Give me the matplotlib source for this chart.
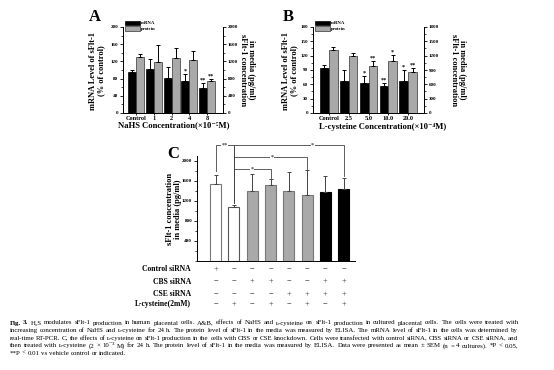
import matplotlib
matplotlib.use("Agg")
import matplotlib.pyplot as plt
from matplotlib.patches import Patch
from matplotlib.ticker import MultipleLocator, AutoMinorLocator

plt.rcParams['font.family'] = ['Liberation Serif', 'DejaVu Serif']
plt.rcParams['font.weight'] = 'bold'

W, H = 554, 370
fig = plt.figure(figsize=(W / 100, H / 100), dpi=100)

def rect(x0, y0, x1, y1):
    return [x0 / W, 1 - y1 / H, (x1 - x0) / W, (y1 - y0) / H]

# ---------------- data ----------------
a_cats = ['Control', '1', '2', '4', '8']
a_mrna = [95, 103, 82, 74, 57]
a_mrna_err = [5, 22, 24, 17, 12]
a_prot = [1310, 1195, 1270, 1226, 734]
a_prot_err = [60, 390, 240, 220, 56]
a_mrna_sig = ['', '', '', '*', '**']
a_prot_sig = ['', '', '', '', '**']

b_cats = ['Control', '2.5', '5.0', '10.0', '20.0']
b_mrna = [95, 67, 62, 56, 67]
b_mrna_err = [5, 24, 15, 7, 23]
b_prot = [1310, 1200, 990, 1090, 865]
b_prot_err = [70, 50, 90, 125, 85]
b_mrna_sig = ['', '', '*', '**', '*']
b_prot_sig = ['', '', '**', '*', '**']

c_vals = [1534, 1073, 1400, 1507, 1400, 1313, 1380, 1440]
c_err = [186, 47, 340, 126, 373, 494, 320, 213]
c_colors = ['white', 'white', '#a9a9a9', '#a9a9a9', '#a9a9a9', '#a9a9a9', 'black', 'black']
c_edges = ['#777777', '#555555', '#777777', '#777777', '#777777', '#777777', 'black', 'black']
c_rows = ['Control siRNA', 'CBS siRNA', 'CSE siRNA', 'L-cysteine(2mM)']
c_signs = [
    ['+', '−', '−', '−', '−', '−', '−', '−'],
    ['−', '−', '+', '+', '−', '−', '+', '+'],
    ['−', '−', '−', '−', '+', '+', '+', '+'],
    ['−', '+', '−', '+', '−', '+', '−', '+'],
]
# brackets: (i, j, top, drop_i, drop_j, star_x, label)
c_brackets = [
    (0, 1, 2306, 1786, 1160, 0.5, '**'),
    (1, 7, 2306, 1160, 1686, 5.3, '*'),
    (1, 5, 2074, 1160, 1820, 3.1, '*'),
    (1, 3, 1834, 1160, 1654, 2.0, '*'),
]

caption = [
    "Fig. 3. H\u2082S modulates sFlt-1 production in human placental cells. A&B, effects of NaHS and \u029f-cysteine on sFlt-1 production in cultured placental cells. The cells were treated with",
    "increasing concentration of NaHS and \u029f-cysteine for 24 h. The protein level of sFlt-1 in the media was measured by ELISA. The mRNA level of sFlt-1 in the cells was determined by",
    "real-time RT-PCR. C, the effects of \u029f-cysteine on sFlt-1 production in the cells with CBS or CSE knockdown. Cells were transfected with control siRNA, CBS siRNA or CSE siRNA, and",
    "then treated with \u029f-cysteine (2 \u00d7 10\u207b\u00b3 M) for 24 h. The protein level of sFlt-1 in the media was measured by ELISA. Data were presented as mean \u00b1 SEM (n = 4 cultures). *P < 0.05,",
    "**P < 0.01 vs vehicle control or indicated.",
]

GREY = '#a9a9a9'
TICK_FS = 3.6


def style_axis(ax):
    ax.spines['top'].set_visible(False)
    ax.tick_params(axis='both', labelsize=TICK_FS, length=2, width=0.6, pad=1.5)
    ax.tick_params(axis='y', which='minor', length=1.2, width=0.5)
    for s in ax.spines.values():
        s.set_linewidth(0.7)


def dual_panel(rect_px, cats, mrna, mrna_err, prot, prot_err, msig, psig,
               ylim_l, ystep_l, ylim_r, ystep_r, xlim, bw):
    ax = fig.add_axes(rect(*rect_px))
    ax2 = ax.twinx()
    x = list(range(len(cats)))
    xl = [v - bw / 2 for v in x]
    xr = [v + bw / 2 for v in x]
    ax.bar(xl, mrna, width=bw, color='black', edgecolor='black', linewidth=0.5, zorder=2)
    ax.errorbar(xl, mrna, yerr=[[0] * len(x), mrna_err], fmt='none', ecolor='black',
                elinewidth=0.7, capsize=1.6, capthick=0.7, zorder=3)
    ax2.bar(xr, prot, width=bw, color=GREY, edgecolor='#333333', linewidth=0.5, zorder=2)
    ax2.errorbar(xr, prot, yerr=[[0] * len(x), prot_err], fmt='none', ecolor='black',
                 elinewidth=0.7, capsize=1.6, capthick=0.7, zorder=3)
    for xi, v, e, s in zip(xl, mrna, mrna_err, msig):
        if s:
            ax.text(xi, v + e + ylim_l[1] * 0.005, s, ha='center', va='bottom', fontsize=4.5)
    for xi, v, e, s in zip(xr, prot, prot_err, psig):
        if s:
            ax2.text(xi, v + e + ylim_r[1] * 0.005, s, ha='center', va='bottom', fontsize=4.5)
    ax.set_xlim(*xlim)
    ax.set_ylim(*ylim_l)
    ax2.set_ylim(*ylim_r)
    ax.yaxis.set_major_locator(MultipleLocator(ystep_l))
    ax2.yaxis.set_major_locator(MultipleLocator(ystep_r))
    ax.yaxis.set_minor_locator(AutoMinorLocator(2))
    ax2.yaxis.set_minor_locator(AutoMinorLocator(2))
    ax.set_xticks(x)
    ax.set_xticklabels(cats, fontsize=4.6)
    style_axis(ax)
    style_axis(ax2)
    ax.tick_params(axis='x', length=1.5, labelsize=4.6, pad=1)
    ax.legend([Patch(fc='black', ec='black', lw=0.5), Patch(fc=GREY, ec='#333333', lw=0.5)],
              ['mRNA', 'protein'], loc='upper left', bbox_to_anchor=(0.02, 1.075),
              frameon=False, fontsize=3.4, handlelength=3.2, handleheight=1.1,
              labelspacing=0.15, handletextpad=0.2, borderpad=0, borderaxespad=0)
    return ax, ax2


# Panel A
dual_panel((123, 27, 223, 113), a_cats, a_mrna, a_mrna_err, a_prot, a_prot_err,
           a_mrna_sig, a_prot_sig, (0, 200), 40, (0, 2000), 400, (-0.75, 4.9), 0.45)
fig.text(89 / W, 1 - 21 / H, 'A', fontsize=12, fontweight='bold', va='baseline')
fig.text(97 / W, 1 - 71 / H, 'mRNA Level of sFlt-1\n(% of control)', rotation=90,
         ha='center', va='center', multialignment='center', fontsize=6, linespacing=1.1)
fig.text(247 / W, 1 - 70 / H, 'in media (pg/ml)\nsFlt-1 concentration', rotation=270,
         ha='center', va='center', multialignment='center', fontsize=6, linespacing=1.1)
fig.text(174 / W, 1 - 125 / H, 'NaHS Concentration(\u00d710\u207b\u2075M)',
         ha='center', va='center', fontsize=6.2)

# Panel B
dual_panel((313, 27, 424, 113), b_cats, b_mrna, b_mrna_err, b_prot, b_prot_err,
           b_mrna_sig, b_prot_sig, (0, 180), 30, (0, 1800), 300, (-0.8, 4.8), 0.44)
fig.text(283 / W, 1 - 21 / H, 'B', fontsize=12, fontweight='bold', va='baseline')
fig.text(290 / W, 1 - 71 / H, 'mRNA Level of sFlt-1\n(% of control)', rotation=90,
         ha='center', va='center', multialignment='center', fontsize=6, linespacing=1.1)
fig.text(458 / W, 1 - 70 / H, 'in media (pg/ml)\nsFlt-1 concentration', rotation=270,
         ha='center', va='center', multialignment='center', fontsize=6, linespacing=1.1)
fig.text(383 / W, 1 - 127 / H, 'L-cysteine Concentration(\u00d710\u207b\u2074M)',
         ha='center', va='center', fontsize=6.2)

# Panel C
axc = fig.add_axes(rect(197, 155.7, 355, 261))
xc = list(range(len(c_vals)))
axc.bar(xc, c_vals, width=0.6, color=c_colors, edgecolor=c_edges, linewidth=0.8, zorder=2)
axc.errorbar(xc, c_vals, yerr=[[0] * len(xc), c_err], fmt='none', ecolor='#444444',
             elinewidth=0.7, capsize=1.6, capthick=0.7, zorder=3)
axc.set_xlim(-1.02, 7.62)
axc.set_ylim(0, 2100)
axc.set_yticks([400, 800, 1200, 1600, 2000])
axc.yaxis.set_minor_locator(MultipleLocator(200))
axc.set_xticks([])
axc.spines['top'].set_visible(False)
axc.spines['right'].set_visible(False)
for s in axc.spines.values():
    s.set_linewidth(0.7)
axc.tick_params(axis='y', labelsize=TICK_FS, length=2, width=0.6, pad=1.5)
axc.tick_params(axis='y', which='minor', length=1.2, width=0.5)

for i, j, top, di, dj, sx, lab in c_brackets:
    axc.plot([i, i, j, j], [di, top, top, dj], color='#444444', lw=0.6,
             clip_on=False, zorder=4)
    axc.text(sx, top, lab, ha='center', va='center', fontsize=4.5, color='#444444',
             bbox=dict(fc='white', ec='none', pad=0.3), clip_on=False, zorder=5)

fig.text(167 / W, 1 - 158 / H, 'C', fontsize=12, fontweight='bold', va='baseline')
fig.text(174 / W, 1 - 209 / H, 'sFlt-1 concentration\nin media (pg/ml)', rotation=90,
         ha='center', va='center', multialignment='center', fontsize=6, linespacing=1.1)

row_y = [269.3, 281.7, 294, 304.3]
for ry, name, signs in zip(row_y, c_rows, c_signs):
    fig.text(191 / W, 1 - ry / H, name, ha='right', va='center', fontsize=5.5)
    for xi, sg in zip(xc, signs):
        px = axc.transData.transform((xi, 0))[0]
        fig.text(px / W, 1 - ry / H, sg, ha='center', va='center', fontsize=6,
                 fontweight='normal', color='#333333')

# Caption (justified, word by word)
cap_y = [323, 330.6, 338.2, 345.8, 353.4]
cap_fs = 4.95
X0, X1 = 9.5, 518.0
renderer = fig.canvas.get_renderer()
for li, (yy, line) in enumerate(zip(cap_y, caption)):
    words = line.split(' ')
    objs = []
    for wi, wd in enumerate(words):
        bold = (li == 0 and wi < 2)
        t = fig.text(0, 1 - yy / H, wd, ha='left', va='center', fontsize=cap_fs,
                     fontweight='bold' if bold else 'normal')
        objs.append(t)
    widths = [t.get_window_extent(renderer).width for t in objs]
    total = sum(widths)
    if li < len(caption) - 1:
        gap = (X1 - X0 - total) / (len(words) - 1)
    else:
        gap = cap_fs * 100 / 72 * 0.25
    x = X0
    for t, wdt in zip(objs, widths):
        t.set_x(x / W)
        x += wdt + gap

fig.savefig('out.png', dpi=100)
